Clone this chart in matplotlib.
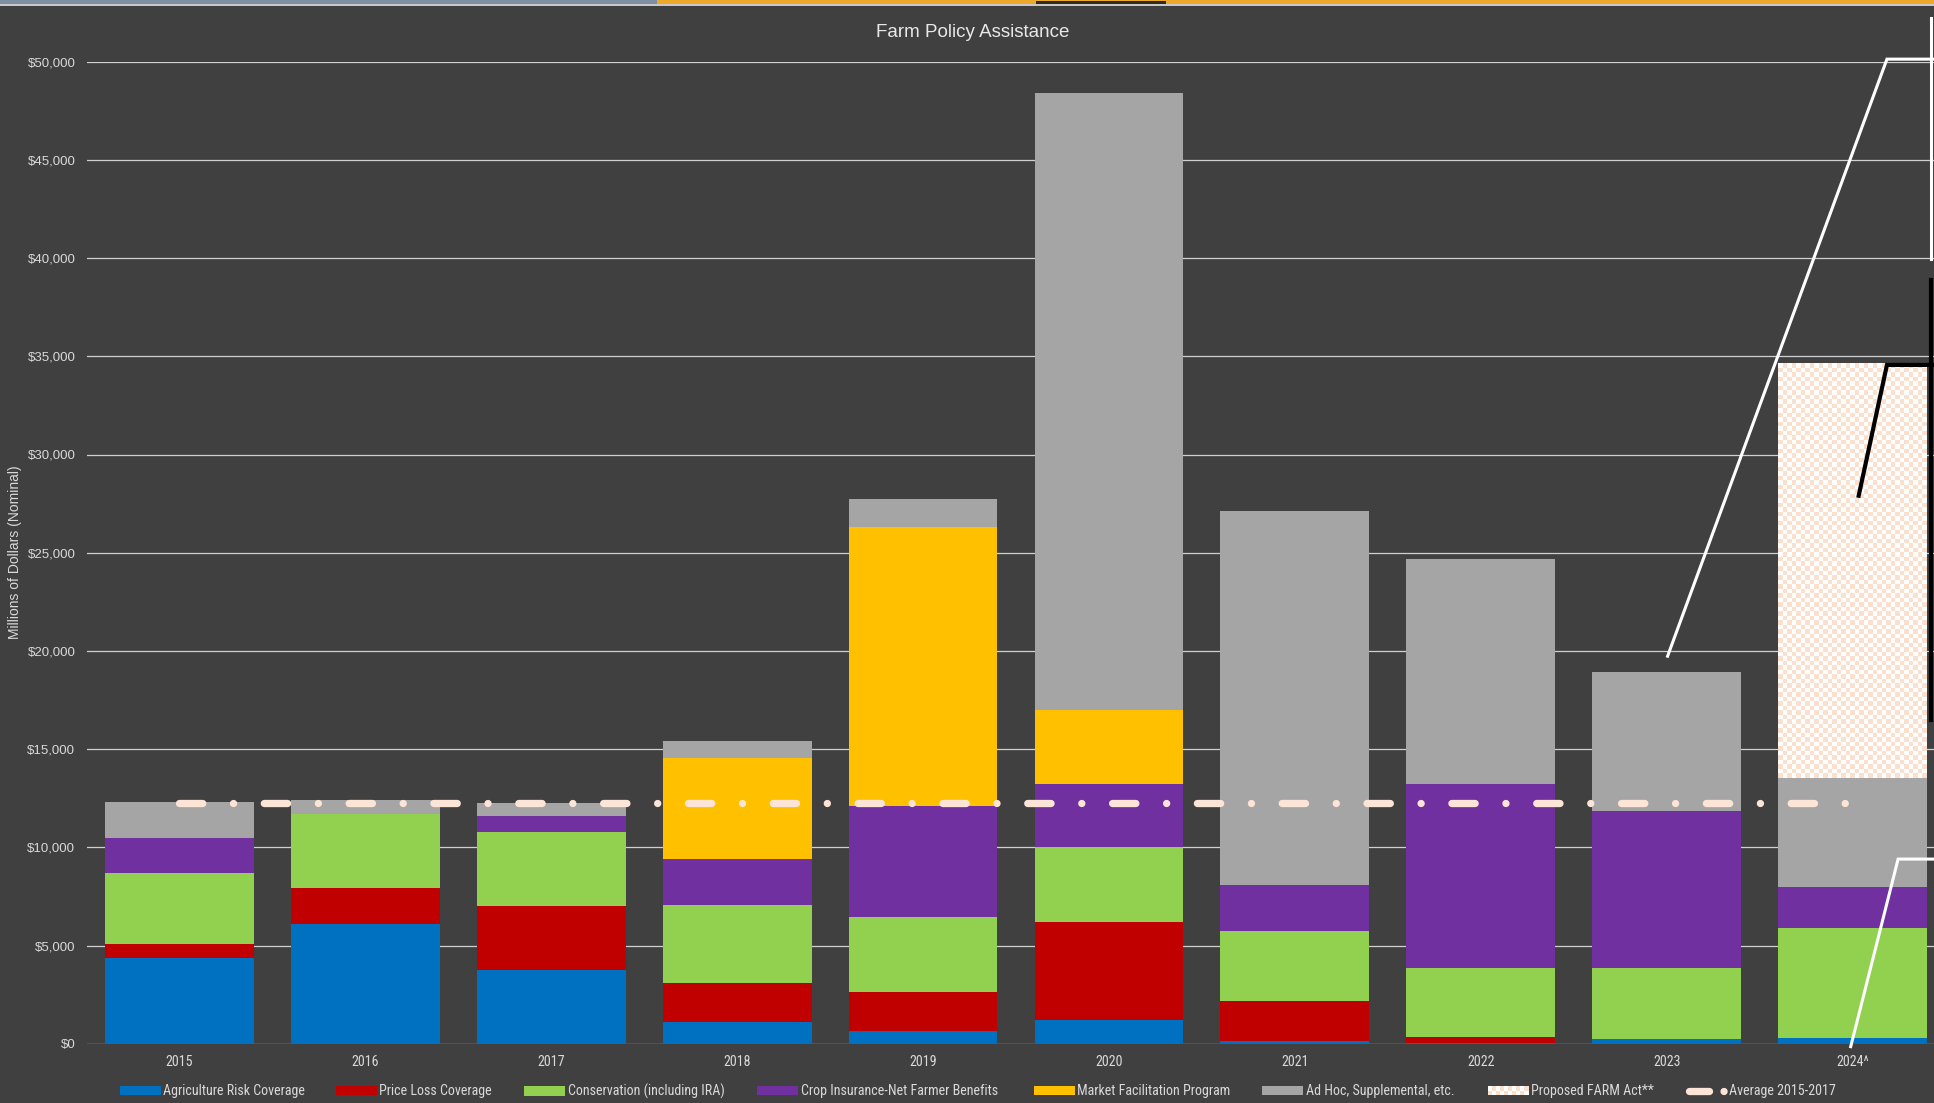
import matplotlib
matplotlib.use("Agg")
import matplotlib.pyplot as plt
import numpy as np
from matplotlib.patches import Rectangle, Patch
from matplotlib.lines import Line2D
from matplotlib.legend_handler import HandlerBase
from matplotlib.colors import ListedColormap
from matplotlib import font_manager as fm
from matplotlib.font_manager import FontProperties

# ---------------- data ----------------
years = ['2015', '2016', '2017', '2018', '2019', '2020', '2021', '2022', '2023', '2024^']
arc = [4370, 6080, 3740, 1100, 660, 1230, 160, 50, 240, 300]
plc = [690, 1870, 3270, 2010, 1950, 4960, 2010, 300, 20, 0]
conservation = [3640, 3770, 3770, 3960, 3850, 3840, 3580, 3520, 3610, 5600]
crop_insurance = [1760, 0, 800, 2330, 5640, 3200, 2330, 9360, 7960, 2070]
mfp = [0, 0, 0, 5150, 14200, 3770, 0, 0, 0, 0]
adhoc = [1830, 690, 690, 880, 1450, 31430, 19040, 11440, 7120, 5550]
proposed = [0, 0, 0, 0, 0, 0, 0, 0, 0, 21090]
average_2015_2017 = [12250] * 10

series_names = ['Agriculture Risk Coverage', 'Price Loss Coverage', 'Conservation (including IRA)',
                'Crop Insurance-Net Farmer Benefits', 'Market Facilitation Program',
                'Ad Hoc, Supplemental, etc.']
series_vals = [arc, plc, conservation, crop_insurance, mfp, adhoc]
series_colors = ['#0070C0', '#C00000', '#92D050', '#7030A0', '#FFC000', '#A5A5A5']
proposed_label = 'Proposed FARM Act**'
average_label = 'Average 2015-2017'

# leftover callout leader lines (data coords)
callouts_white = [
    [(8.005, 19730), (9.185, 50130), (9.7, 50130)],
    [(8.99, -150), (9.245, 9400), (9.7, 9400)],
    [(9.42, 52225), (9.42, 39955)],
]
callouts_black = [
    [(9.033, 27900), (9.185, 34560), (9.7, 34560)],
    [(9.42, 38880), (9.42, 16500)],
]

# ---------------- fonts ----------------
ttf = fm.fontManager.ttflist
names = {f.name for f in ttf}
regular = 'Liberation Sans'
narrow_fp = None
for cand in ['Liberation Sans Narrow', 'Arial Narrow', 'Roboto Condensed', 'Open Sans Condensed',
             'Noto Sans Condensed', 'DejaVu Sans Condensed']:
    if cand in names:
        narrow_fp = dict(family=[cand, 'DejaVu Sans'])
        break
if narrow_fp is None:
    for f in ttf:
        st = str(f.stretch)
        if f.name in ('Noto Sans', 'Open Sans', 'Roboto', 'DejaVu Sans', 'Liberation Sans') and \
                st in ('condensed', 'semi-condensed', '300', '400') and f.weight in (400, 'normal'):
            narrow_fp = dict(family=[f.name, 'DejaVu Sans'], stretch=st)
            break
if narrow_fp is None:
    narrow_fp = dict(family=[regular, 'DejaVu Sans'])
    NARROW_SCALE = 0.85
else:
    NARROW_SCALE = 0.96

BG = '#404040'
TXT = '#D9D9D9'
PEACH = '#FBE0CD'

W, H = 1934, 1103
fig = plt.figure(figsize=(W / 100, H / 100), dpi=100, facecolor=BG)

# top strip (screenshot remnant)
fig.patches.append(Rectangle((0, 1 - 4 / H), 657 / W, 4 / H, transform=fig.transFigure,
                             facecolor='#7E8EA3', edgecolor='none'))
fig.patches.append(Rectangle((657 / W, 1 - 4 / H), 1 - 657 / W, 4 / H, transform=fig.transFigure,
                             facecolor='#EDA92A', edgecolor='none'))
fig.patches.append(Rectangle((1036 / W, 1 - 4 / H), 130 / W, 3 / H, transform=fig.transFigure,
                             facecolor='#2E2B22', edgecolor='none'))
fig.patches.append(Rectangle((0, 1 - 5.5 / H), 1, 1.5 / H, transform=fig.transFigure,
                             facecolor='#C8C8C8', edgecolor='none'))

ax = fig.add_axes([86.5 / W, 59.3 / H, 1859 / W, 982 / H])
ax.set_facecolor(BG)
x = np.arange(len(years))
bottom = np.zeros(len(years))
for name, vals, col in zip(series_names, series_vals, series_colors):
    ax.bar(x, vals, width=0.8, bottom=bottom, color=col, edgecolor='none', zorder=2, label=name)
    bottom = bottom + np.array(vals)
prop_bars = ax.bar(x, proposed, width=0.8, bottom=bottom, color=PEACH, edgecolor='none', zorder=2)

ax.set_xlim(-0.5, 9.5)
ax.set_ylim(0, 50000)

# checkerboard fill for the proposed bar
for i, rect in enumerate(prop_bars):
    if proposed[i] <= 0:
        continue
    x0, y0 = rect.get_x(), rect.get_y()
    x1, y1 = x0 + rect.get_width(), y0 + rect.get_height()
    p0 = ax.transData.transform((x0, y0))
    p1 = ax.transData.transform((x1, y1))
    nx = max(1, int(round(abs(p1[0] - p0[0]) / 4.5)))
    ny = max(1, int(round(abs(p1[1] - p0[1]) / 4.5)))
    checker = np.add.outer(np.arange(ny), np.arange(nx)) % 2
    ax.imshow(checker, extent=(x0, x1, y0, y1), origin='lower', aspect='auto',
              cmap=ListedColormap([PEACH, '#FFFFFF']), interpolation='nearest', zorder=2.5)
ax.set_xlim(-0.5, 9.5)
ax.set_ylim(0, 50000)

# average line
LW = 7.3 * 0.72
ax.plot(x, average_2015_2017, color='#FCE4D6', lw=LW, dashes=[3.19, 4.21, 0.01, 4.21],
        dash_capstyle='round', solid_capstyle='round', zorder=5)

# callout lines
for seg in callouts_white:
    xs, ys = zip(*seg)
    ax.plot(xs, ys, color='white', lw=2.2, clip_on=False, zorder=6, solid_joinstyle='miter')
for seg in callouts_black:
    xs, ys = zip(*seg)
    ax.plot(xs, ys, color='black', lw=3.0, clip_on=False, zorder=6, solid_joinstyle='miter')

# axes styling
for s in ax.spines.values():
    s.set_visible(False)
ax.set_yticks(np.arange(0, 50001, 5000))
ax.set_yticklabels(['${:,.0f}'.format(v) for v in np.arange(0, 50001, 5000)])
ax.set_xticks(x)
ax.set_xticklabels(years)
ax.tick_params(axis='y', length=0, pad=8.0, labelsize=9.5, labelcolor=TXT)
ax.tick_params(axis='x', length=0, pad=7.8, labelcolor=TXT)
for lab in ax.get_xticklabels():
    lab.set_fontproperties(FontProperties(size=10.5 * NARROW_SCALE, **narrow_fp))
for lab in ax.get_yticklabels():
    lab.set_family([regular, 'DejaVu Sans'])
ax.yaxis.grid(True, color='#D0D0D0', lw=0.9)
ax.set_axisbelow(True)

fig.text(973 / W, 1 - 32.5 / H, 'Farm Policy Assistance', ha='center', va='center',
         fontsize=13.5, color='#E8E8E8', family=[regular, 'DejaVu Sans'])
fig.text(14.8 / W, 1 - 552 / H, 'Millions of Dollars (Nominal)', rotation=90, ha='center',
         va='center', fontsize=10, color=TXT, family=[regular, 'DejaVu Sans'])


# legend
class CheckerHandler(HandlerBase):
    def create_artists(self, legend, orig_handle, xdescent, ydescent, width, height, fontsize, trans):
        arts = []
        n, m = 10, 2
        cw, ch = width / n, height / m
        for r in range(m):
            for c in range(n):
                col = PEACH if (r + c) % 2 == 0 else '#FFFFFF'
                arts.append(Rectangle((-xdescent + c * cw, -ydescent + r * ch), cw, ch,
                                      facecolor=col, edgecolor='none', transform=trans))
        return arts


class ProposedHandle:
    pass


handles = [Patch(facecolor=c, edgecolor='none') for c in series_colors]
handles.append(ProposedHandle())
handles.append(Line2D([], [], color='#FCE4D6', lw=LW, dashes=[2.74, 1.99, 0.01, 10],
                      dash_capstyle='round'))
labels = series_names + [proposed_label, average_label]
leg_x = [119.6, 335.5, 524, 757, 1033.6, 1261.8, 1487.5, 1688.5]
leg_fs = 10.5 * NARROW_SCALE
for h, lab, lx in zip(handles, labels, leg_x):
    hl = 41.0 / (leg_fs / 0.72)
    if isinstance(h, Line2D):
        hl = 38.0 / (leg_fs / 0.72)
    leg = fig.legend([h], [lab], loc='center left', bbox_to_anchor=(lx / W, 11.5 / H),
                     frameon=False, handlelength=hl, handleheight=0.68,
                     handletextpad=0.2, borderaxespad=0, borderpad=0,
                     handler_map={ProposedHandle: CheckerHandler()},
                     prop=FontProperties(size=leg_fs, **narrow_fp))
    for t in leg.get_texts():
        t.set_color(TXT)

fig.savefig('out.png', dpi=100, facecolor=BG)
